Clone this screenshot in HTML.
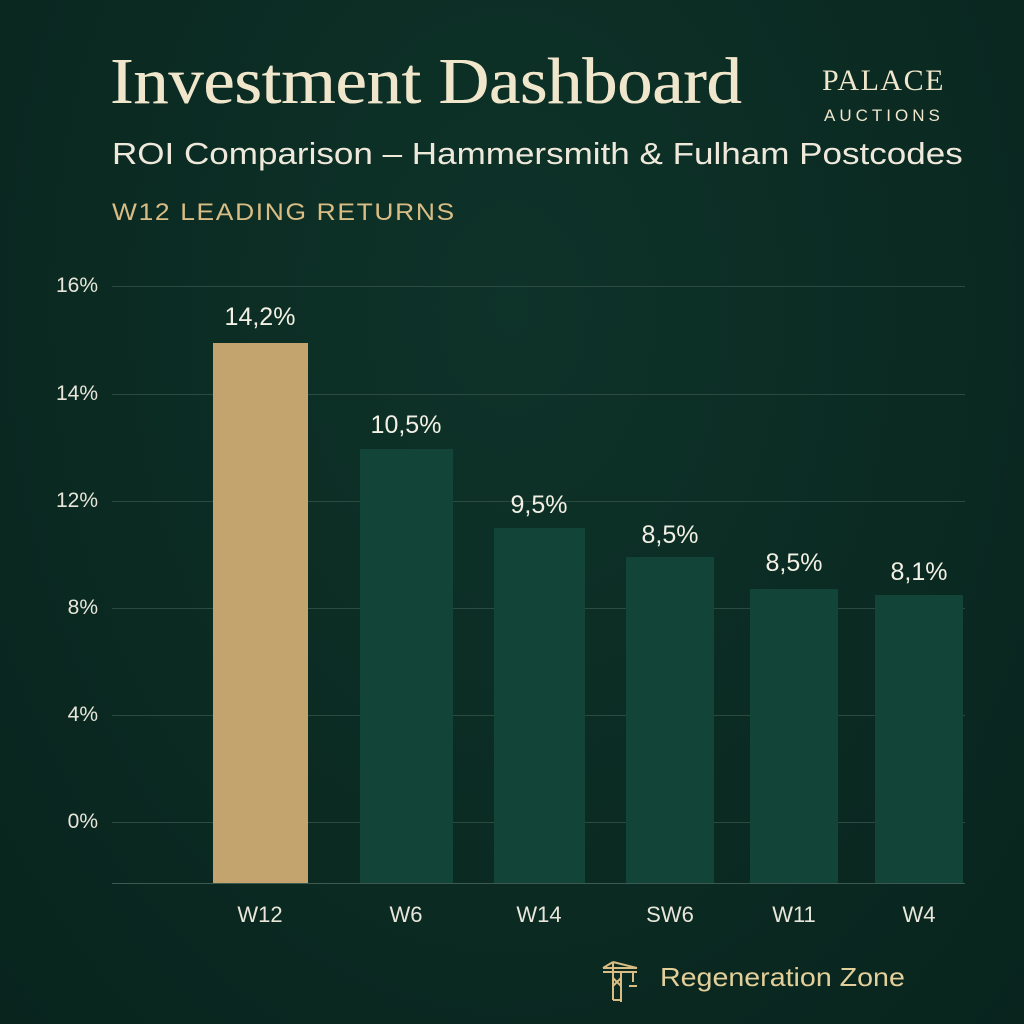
<!DOCTYPE html><html><head><style>
body{margin:0;width:1024px;height:1024px;background:#0b2b23;position:relative;overflow:hidden;font-family:"Liberation Sans",sans-serif}
div{position:absolute;white-space:nowrap;transform-origin:left top}
.g{left:112px;width:853px;height:1px;background:#2b4a40}
.yl{left:40px;width:58px;text-align:right;color:#e8e6da;font-size:21px}
.b{background:#134438}
.v{color:#f2efe4;font-size:25px;text-align:center;width:140px}
.x{color:#e8e6da;font-size:22px;text-align:center;width:120px;top:902px}
</style></head><body>
<div style="left:0;top:0;width:1024px;height:1024px;background:radial-gradient(ellipse at 50% 30%,#0e3329,#08241d)"></div>
<div style="left:110px;top:44px;font-family:'Liberation Serif',serif;font-size:66px;color:#efe6cc;transform:scaleX(1.06);text-shadow:0.6px 0 0 #efe6cc">Investment Dashboard</div>
<div style="left:822px;top:64px;font-family:'Liberation Serif',serif;font-size:30px;color:#efe6cc;letter-spacing:1.5px">PALACE</div>
<div style="left:824px;top:106px;font-size:17px;color:#efe6cc;letter-spacing:4px">AUCTIONS</div>
<div style="left:112px;top:136px;font-size:31px;color:#efe9dc;transform:scaleX(1.13)">ROI Comparison – Hammersmith &amp; Fulham Postcodes</div>
<div style="left:112px;top:199px;font-size:24px;color:#d9bd84;letter-spacing:1.5px;transform:scaleX(1.1)">W12 LEADING RETURNS</div>
<div class="g" style="top:286px"></div><div class="g" style="top:394px"></div><div class="g" style="top:501px"></div><div class="g" style="top:608px"></div><div class="g" style="top:715px"></div><div class="g" style="top:822px"></div><div class="g" style="top:883px;background:#3d5a50"></div>
<div class="yl" style="top:274px">16%</div><div class="yl" style="top:382px">14%</div><div class="yl" style="top:489px">12%</div><div class="yl" style="top:596px">8%</div><div class="yl" style="top:703px">4%</div><div class="yl" style="top:810px">0%</div>
<div style="left:213px;top:343px;width:95px;height:540px;background:#c4a46e"></div>
<div class="b" style="left:360px;top:449px;width:93px;height:434px"></div>
<div class="b" style="left:494px;top:528px;width:91px;height:355px"></div>
<div class="b" style="left:626px;top:557px;width:88px;height:326px"></div>
<div class="b" style="left:750px;top:589px;width:88px;height:294px"></div>
<div class="b" style="left:875px;top:595px;width:88px;height:288px"></div>
<div class="v" style="left:190px;top:303px">14,2%</div>
<div class="v" style="left:336px;top:411px">10,5%</div>
<div class="v" style="left:469px;top:491px">9,5%</div>
<div class="v" style="left:600px;top:521px">8,5%</div>
<div class="v" style="left:724px;top:549px">8,5%</div>
<div class="v" style="left:849px;top:558px">8,1%</div>
<div class="x" style="left:200px">W12</div><div class="x" style="left:346px">W6</div><div class="x" style="left:479px">W14</div><div class="x" style="left:610px">SW6</div><div class="x" style="left:734px">W11</div><div class="x" style="left:859px">W4</div>
<svg style="position:absolute;left:601px;top:958px" width="40" height="44" viewBox="0 0 40 44" fill="none" stroke="#d9bd84" stroke-width="2"><path d="M2 10h34M2 14h34M12 4l-10 6M12 4l24 6M12 4v38M20 14v38M12 42h8M12 20l8 8M20 20l-8 8M32 14v10M28 28h8"/></svg>
<div style="left:660px;top:962px;font-size:26px;color:#e3cf9a;transform:scaleX(1.1)">Regeneration Zone</div>
</body></html>
